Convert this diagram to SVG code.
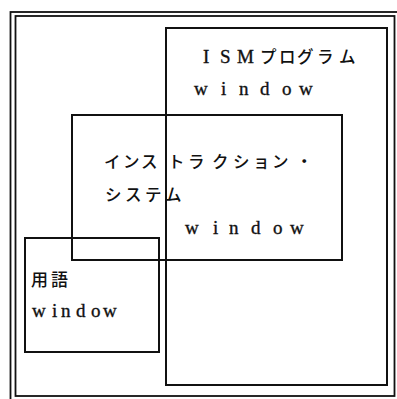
<svg xmlns="http://www.w3.org/2000/svg" width="397" height="399" viewBox="0 0 397 399">
<style>
.box{fill:none;stroke:#111;stroke-width:2}
.frame{fill:none;stroke:#111;stroke-width:1.8}
.jp{font-family:"Noto Sans CJK JP","Noto Sans",sans-serif;font-size:16.5px;font-weight:500;fill:#111}
.en{font-family:"Liberation Serif","DejaVu Serif",serif;font-size:19px;fill:#111;stroke:#111;stroke-width:0.35}
</style>
<rect width="397" height="399" fill="#fff"/>
<g id="frame">
<rect class="frame" x="10.5" y="12" width="392" height="392"/>
<rect class="frame" x="15.5" y="16" width="379" height="380"/>
</g>
<g id="ism">
<rect class="box" x="166" y="28" width="221" height="357"/>
<text class="en" y="63"><tspan x="203">I</tspan><tspan x="220">S</tspan><tspan x="237">M</tspan></text>
<text class="jp" y="63" x="260 279 297 317 339">プログラム</text>
<text class="en" y="95" x="194 221 239 260 282 299">window</text>
</g>
<g id="instruction">
<rect class="box" x="72" y="115" width="270" height="145"/>
<text class="jp" y="168" x="104 123 141 168 188 212 233 253 272 296">インストラクション・</text>
<text class="jp" y="201" x="105 125 145 165">システム</text>
<text class="en" y="234" x="185 213 229 251 273 290">window</text>
</g>
<g id="yougo">
<rect class="box" x="25" y="238" width="134" height="114"/>
<text class="jp" style="font-size:17px" y="286" x="31 51">用語</text>
<text class="en" y="317" x="32 52 61 76 91 103">window</text>
</g>
</svg>
